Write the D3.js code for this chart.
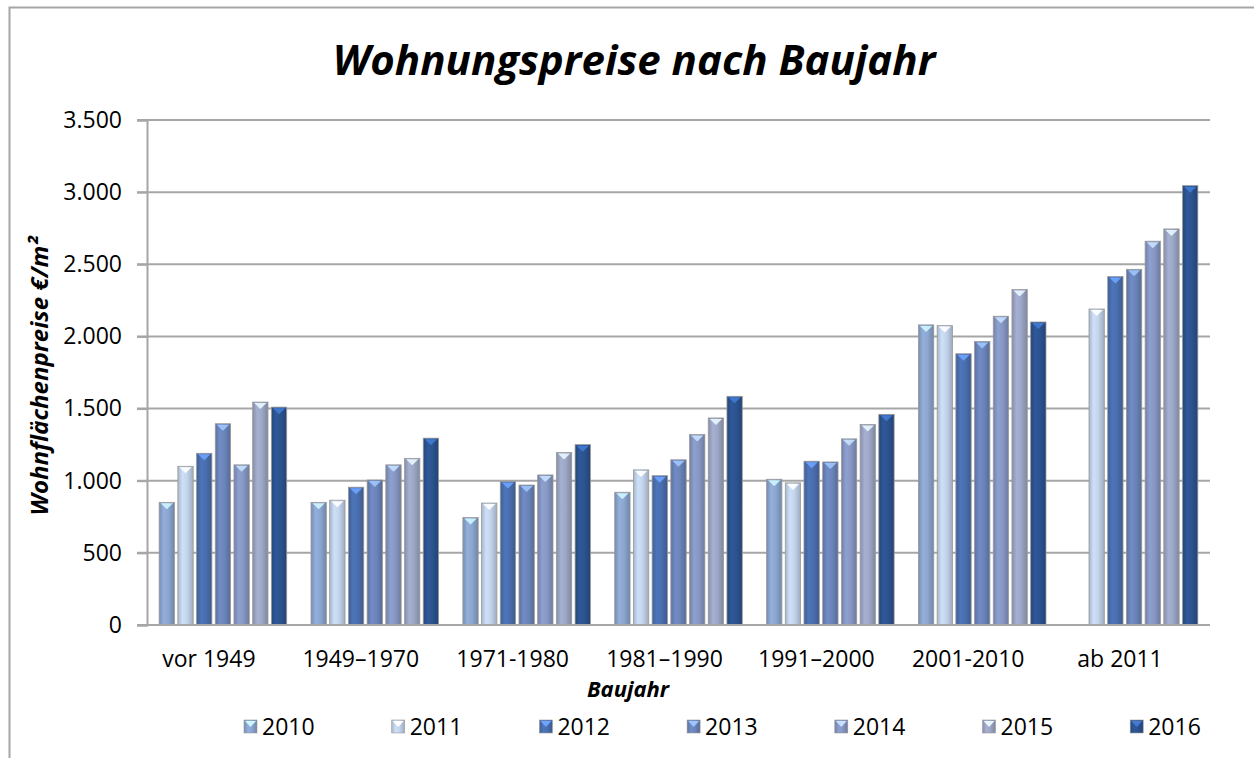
<!DOCTYPE html>
<html>
<head>
<meta charset="utf-8">
<script src="https://cdn.jsdelivr.net/npm/d3@7"></script>
<style>
  body { margin: 0; background: #fff; }
  text { font-family: "Open Sans", "Noto Sans", sans-serif; }
</style>
</head>
<body>
<div id="chart"></div>
<script>
// Data
const categories = ["vor 1949", "1949\u20131970", "1971-1980", "1981\u20131990", "1991\u20132000", "2001-2010", "ab 2011"];
const years = ["2010", "2011", "2012", "2013", "2014", "2015", "2016"];
const values2010 = [850, 850, 745, 920, 1010, 2080, null];
const values2011 = [1100, 865, 845, 1075, 985, 2075, 2190];
const values2012 = [1190, 955, 995, 1035, 1135, 1880, 2415];
const values2013 = [1395, 1005, 970, 1145, 1130, 1965, 2465];
const values2014 = [1110, 1110, 1040, 1320, 1290, 2140, 2660];
const values2015 = [1545, 1155, 1195, 1435, 1390, 2325, 2745];
const values2016 = [1510, 1295, 1250, 1585, 1460, 2100, 3045];
const yTicks = [0, 500, 1000, 1500, 2000, 2500, 3000, 3500];

const seriesValues = [values2010, values2011, values2012, values2013, values2014, values2015, values2016];
const barColors = ["#8ba6d0", "#c3d4ec", "#4a6fb0", "#6b85bb", "#8798c4", "#9da7c6", "#2c5390"];

const data = [];
categories.forEach((cat, i) => {
    years.forEach((yr, j) => {
        const v = seriesValues[j][i];
        if (v != null) data.push({ cat: cat, year: yr, value: v });
    });
});

const W = 1254, H = 758;
const plot = { left: 147, right: 1210, top: 120, bottom: 625 };

const svg = d3.select("#chart")
    .append("svg")
    .attr("width", W)
    .attr("height", H);

// Chart frame (extends past the picture on right and bottom)
svg.append("rect")
    .attr("x", 9.5).attr("y", 7.5)
    .attr("width", W + 20).attr("height", H + 20)
    .attr("fill", "none")
    .attr("stroke", "#a6a6a6")
    .attr("stroke-width", 2);

const color = d3.scaleOrdinal().domain(years).range(barColors);

// Gradients for the bars
const defs = svg.append("defs");
years.forEach(yr => {
    const c = d3.color(color(yr));
    const g = defs.append("linearGradient")
        .attr("id", "grad" + yr)
        .attr("x1", "0%").attr("x2", "100%")
        .attr("y1", "0%").attr("y2", "0%");
    g.append("stop").attr("offset", "0%").attr("stop-color", c.darker(0.45));
    g.append("stop").attr("offset", "30%").attr("stop-color", c.brighter(0.15));
    g.append("stop").attr("offset", "60%").attr("stop-color", c);
    g.append("stop").attr("offset", "100%").attr("stop-color", c.darker(0.6));
});

// Scales
const x0 = d3.scaleBand()
    .domain(categories)
    .range([plot.left, plot.right])
    .paddingInner(0.16)
    .paddingOuter(0.08);

const x1 = d3.scaleBand()
    .domain(years)
    .range([0, x0.bandwidth()])
    .paddingInner(0.18)
    .paddingOuter(0);

const y = d3.scaleLinear()
    .domain([0, 3500])
    .range([plot.bottom, plot.top]);

// Gridlines
svg.append("g")
    .selectAll("line")
    .data(yTicks)
    .enter()
    .append("line")
    .attr("x1", plot.left - 10)
    .attr("x2", plot.right)
    .attr("y1", d => y(d))
    .attr("y2", d => y(d))
    .attr("stroke", "#a6a6a6")
    .attr("stroke-width", 2);

// Y axis
const yAxis = svg.append("g")
    .attr("transform", `translate(${plot.left},0)`)
    .call(d3.axisLeft(y)
        .tickValues(yTicks)
        .tickSize(10)
        .tickPadding(15)
        .tickFormat(d => d3.format(",")(d).replace(/,/g, ".")));
yAxis.select(".domain").attr("stroke", "#a6a6a6").attr("stroke-width", 2);
yAxis.selectAll(".tick line").attr("stroke", "#a6a6a6").attr("stroke-width", 2);
yAxis.selectAll(".tick text")
    .attr("font-size", 23)
    .attr("font-family", "'Open Sans', sans-serif")
    .attr("fill", "#000");

// Bars
const groups = svg.selectAll(".cat-group")
    .data(categories)
    .enter()
    .append("g")
    .attr("class", "cat-group")
    .attr("transform", d => `translate(${x0(d)},0)`);

const bars = groups.selectAll(".bar")
    .data(cat => data.filter(d => d.cat === cat))
    .enter()
    .append("g")
    .attr("class", "bar");

bars.append("rect")
    .attr("x", d => x1(d.year))
    .attr("y", d => y(d.value))
    .attr("width", x1.bandwidth())
    .attr("height", d => y(0) - y(d.value))
    .attr("fill", d => `url(#grad${d.year})`)
    .attr("stroke", "#9a9a9a")
    .attr("stroke-width", 0.8);

// Bevel triangle on bar tops
bars.append("path")
    .attr("d", d => {
        const bx = x1(d.year), bw = x1.bandwidth(), by = y(d.value);
        return `M${bx + 1.5},${by + 1} L${bx + bw - 1.5},${by + 1} L${bx + bw / 2},${by + 7} Z`;
    })
    .attr("fill", d => d3.color(color(d.year)).brighter(1.1))
    .attr("opacity", 0.9);

// X axis line
svg.append("line")
    .attr("x1", plot.left).attr("x2", plot.right)
    .attr("y1", plot.bottom).attr("y2", plot.bottom)
    .attr("stroke", "#a6a6a6")
    .attr("stroke-width", 2);

// Category labels (sit a little left of the cluster centre, as in the original)
svg.append("g")
    .selectAll("text")
    .data(categories)
    .enter()
    .append("text")
    .attr("x", d => x0(d) + x0.bandwidth() / 2 - 14)
    .attr("y", 667)
    .attr("text-anchor", "middle")
    .attr("font-size", 23)
    .text(d => d);

// Title
svg.append("text")
    .attr("x", 634)
    .attr("y", 75)
    .attr("text-anchor", "middle")
    .attr("font-size", 42)
    .attr("font-weight", "bold")
    .attr("font-style", "italic")
    .text("Wohnungspreise nach Baujahr");

// Axis titles
svg.append("text")
    .attr("x", 628)
    .attr("y", 697)
    .attr("text-anchor", "middle")
    .attr("font-size", 22)
    .attr("font-weight", "bold")
    .attr("font-style", "italic")
    .text("Baujahr");

svg.append("text")
    .attr("transform", "rotate(-90)")
    .attr("x", -376)
    .attr("y", 48)
    .attr("text-anchor", "middle")
    .attr("font-size", 24)
    .attr("font-weight", "bold")
    .attr("font-style", "italic")
    .text("Wohnflächenpreise €/m²");

// Legend
const legend = svg.append("g")
    .attr("transform", "translate(244,720)");

years.forEach((yr, i) => {
    const lx = i * 147.7;
    legend.append("rect")
        .attr("x", lx)
        .attr("y", 0)
        .attr("width", 13)
        .attr("height", 13)
        .attr("fill", `url(#grad${yr})`)
        .attr("stroke", "#9a9a9a")
        .attr("stroke-width", 0.6);
    legend.append("path")
        .attr("d", `M${lx + 1},${1} L${lx + 12},${1} L${lx + 6.5},${7} Z`)
        .attr("fill", d3.color(color(yr)).brighter(1.1));
    legend.append("text")
        .attr("x", lx + 18)
        .attr("y", 15)
        .attr("font-size", 23)
        .text(yr);
});
</script>
</body>
</html>
